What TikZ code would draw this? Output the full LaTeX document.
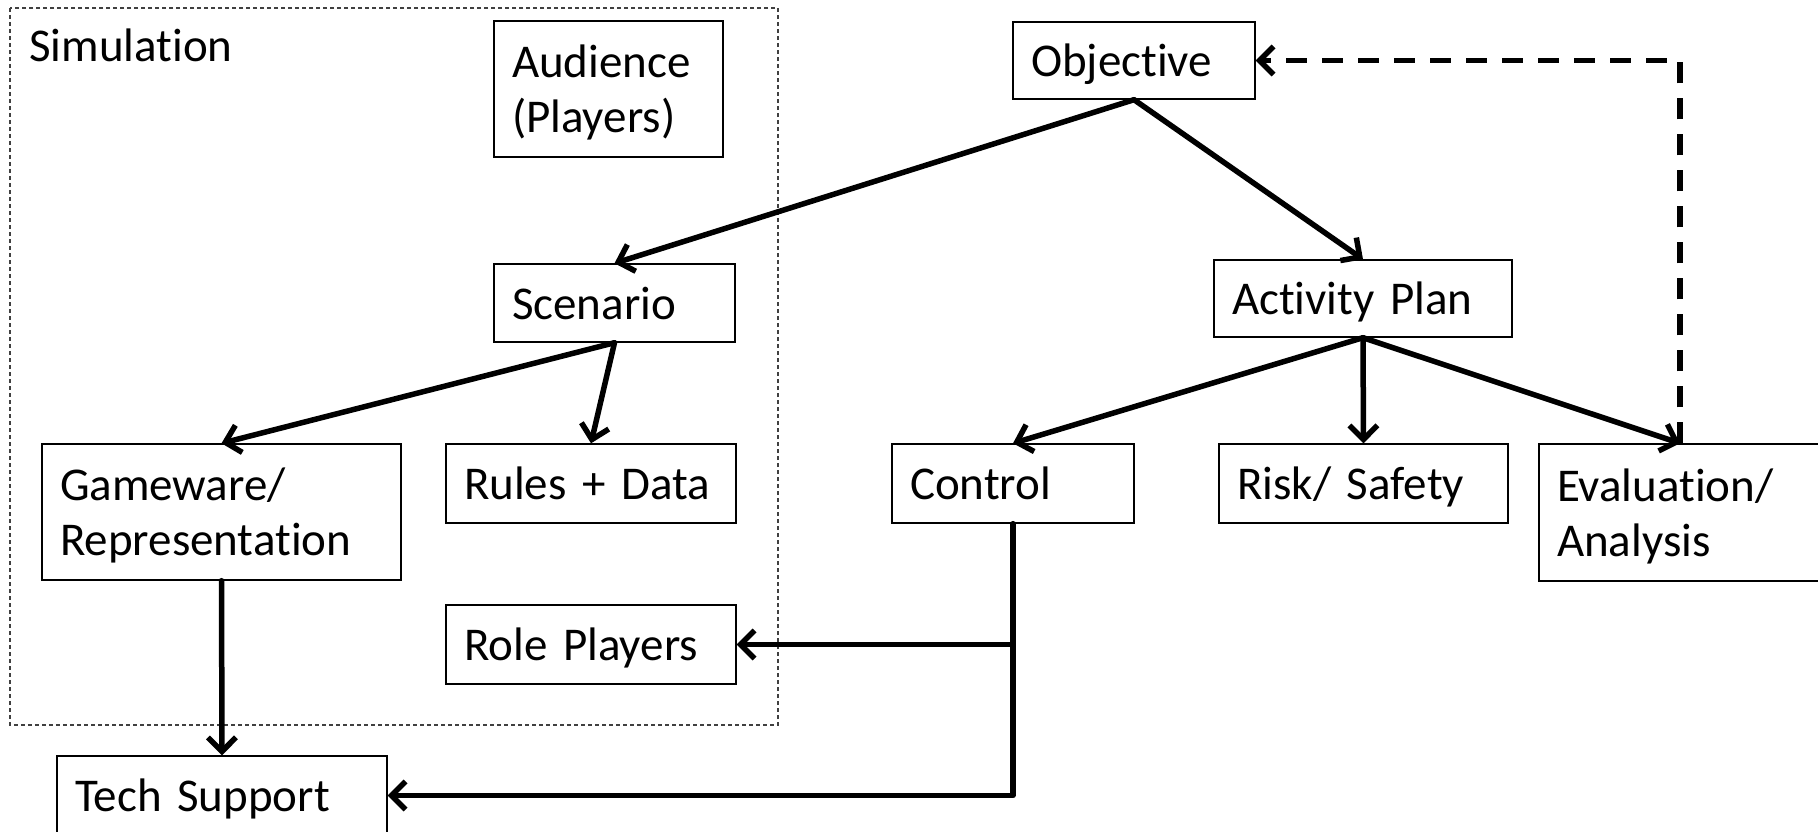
\documentclass[tikz,border=0pt]{standalone}
\usepackage{fontspec}
\setmainfont{Carlito}[Ligatures=NoCommon]
\usetikzlibrary{arrows.meta}

\tikzset{
  box/.style={draw, line width=1.4pt, rectangle, inner xsep=18pt, inner ysep=0pt,
    align=left, font=\fontsize{47}{55}\selectfont, text height=40pt, text depth=8pt},
  twoline/.style={text depth=63pt},
  flow/.style={line width=5.5pt, line cap=round, line join=round,
    -{Straight Barb[length=14pt,width=28pt,line width=5.5pt]}},
  feedback/.style={line width=5.5pt, dash pattern=on 21pt off 15pt,
    -{Straight Barb[length=14pt,width=28pt,line width=5.5pt]}},
  group/.style={line width=1.2pt, dash pattern=on 4pt off 3pt, black!75},
}

\begin{document}
\begin{tikzpicture}[x=1pt, y=-1pt]
  \useasboundingbox (0,0) rectangle (1818,832);

  % simulation group frame and its title
  \draw[group] (10,8) rectangle (778,725);
  \node[anchor=base west, inner sep=0pt, font=\fontsize{47}{55}\selectfont] (simlabel) at (29,62) {Simulation};

  % boxes
  \node[box, twoline, text width=193pt, minimum height=136pt] (audience) at (608.5,89) {Audience\\(Players)};
  \node[box, text width=206pt, minimum height=77pt] (objective) at (1134,60.5) {Objective};
  \node[box, text width=205pt, minimum height=78pt] (scenario) at (614.5,303) {Scenario};
  \node[box, text width=262pt, minimum height=77pt] (activity) at (1363,298.5) {Activity Plan};
  \node[box, twoline, text width=323pt, minimum height=136pt] (gameware) at (221.5,512) {Gameware/\\Representation};
  \node[box, text width=254pt, minimum height=79pt] (rules) at (591,483.5) {Rules + Data};
  \node[box, text width=206pt, minimum height=79pt] (control) at (1013,483.5) {Control};
  \node[box, text width=253pt, minimum height=79pt] (risk) at (1363.5,483.5) {Risk/ Safety};
  \node[box, twoline, text width=275pt, minimum height=137pt] (evaluation) at (1694.5,512.5) {Evaluation/\\Analysis};
  \node[box, text width=254pt, minimum height=79pt] (roleplayers) at (591,644.5) {Role Players};
  \node[box, text width=294pt, minimum height=79pt] (techsupport) at (222,795.5) {Tech Support};

  % x position of the feedback loop
  \coordinate (fb) at (1680,0);

  % connectors
  \draw[flow] (objective.south) -- (scenario.north);
  \draw[flow] (objective.south) -- (activity.north);
  \draw[flow] (scenario.south) -- (gameware.north);
  \draw[flow] (scenario.south) -- (rules.north);
  \draw[flow] (activity.south) -- (control.north);
  \draw[flow] (activity.south) -- (risk.north);
  \draw[flow] (activity.south) -- (fb |- evaluation.north);
  \draw[flow] (gameware.south) -- (techsupport.north);
  \draw[flow] (control.south) |- (techsupport.east);
  \draw[flow] (control.south |- roleplayers.east) -- (roleplayers.east);
  \draw[feedback] (fb |- evaluation.north) |- (objective.east);
\end{tikzpicture}
\end{document}
